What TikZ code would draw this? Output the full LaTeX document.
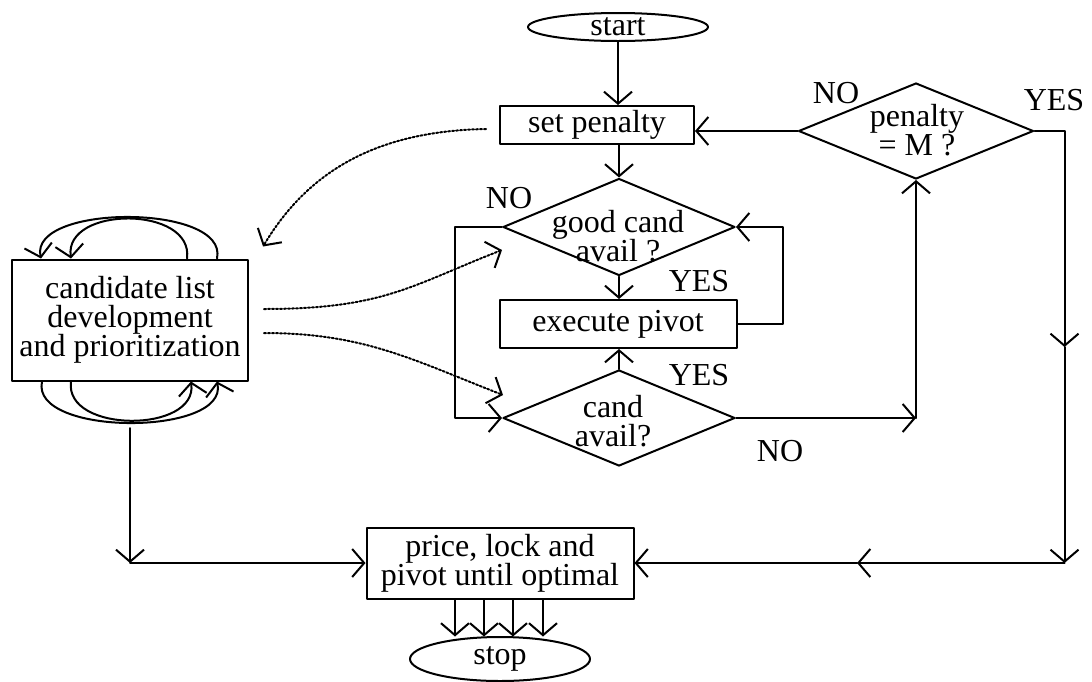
\documentclass[tikz,border=0pt]{standalone}
\usepackage{fontspec}
\setmainfont{Liberation Serif}
\usetikzlibrary{arrows.meta,shapes.geometric,calc}
\lineskiplimit=-100pt

\begin{document}
\begin{tikzpicture}[line cap=round,line join=round,>={Straight Barb[length=6pt,width=14pt]},x=0.5pt,y=-0.5pt,
	every node/.style={font=\fontsize{16}{14.5}\selectfont},
	box/.style={draw,line width=1pt,inner sep=0pt,align=center},
	dia/.style={draw,line width=1pt,shape=diamond,inner sep=0pt},
	oval/.style={draw,line width=1pt,shape=ellipse,inner sep=0pt},
	txt/.style={align=center,inner sep=0pt},
	ln/.style={line width=1pt},
	dots/.style={line width=1pt,densely dotted}]
	\useasboundingbox (0,0) rectangle (1092,681);
	\node[oval,minimum width=90pt,minimum height=14pt] (start) at (618,27) {};
	\node[txt] (start-t) at (start) {start};
	\node[box,minimum width=97pt,minimum height=19pt] (setp) at (597,125) {set penalty};
	\node[dia,minimum width=116pt,minimum height=48.5pt] (good) at (619,227) {};
	\node[txt] (good-t) at (618,236) {good cand\\avail ?};
	\node[box,minimum width=118.5pt,minimum height=24pt] (exec) at (618,324) {execute pivot};
	\node[dia,minimum width=116pt,minimum height=48pt] (avail) at (619,418) {};
	\node[txt] (avail-t) at (613,421) {cand\\avail?};
	\node[dia,minimum width=117.5pt,minimum height=48pt] (pen) at (916,131) {};
	\node[txt] (pen-t) at (917,130) {penalty\\= M ?};
	\node[box,minimum width=118pt,minimum height=60.5pt,font=\fontsize{16}{14.5}\selectfont] (cand) at (130,320) {candidate list\\development\\and prioritization};
	\node[box,minimum width=133.5pt,minimum height=35.5pt] (price) at (500,563) {price, lock and\\pivot until optimal};
	\node[oval,minimum width=90pt,minimum height=22pt] (stop) at (500,659) {};
	\node[txt] (stop-t) at (stop) {stop};
	\node (no-good) at (509,198) {NO};
	\node (yes-good) at (699,281) {YES};
	\node (yes-avail) at (699,375) {YES};
	\node (no-avail) at (780,451) {NO};
	\node (no-pen) at (836,93) {NO};
	\node (yes-pen) at (1054,100) {YES};
	\draw[ln,->] (start.south) -- (start.south |- setp.north);
	\draw[ln,->] (good.north |- setp.south) -- (good.north);
	\draw[ln,->] (good.south) -- (good.south |- exec.north);
	\draw[ln,->] (avail.north) -- (avail.north |- exec.south);
	\draw[ln,->] (exec.east) -- ++(45,0) |- (good.east);
	\draw[ln,->] (good.west) -- ++(-47,0) |- (avail.west);
	\draw[ln,->] (pen.west) -- (pen.west -| setp.east);
	\coordinate (ytop) at ($(pen.east)+(30,0)$);
	\coordinate (ymid) at (ytop |- 0,347);
	\coordinate (ybot) at (ytop |- price.east);
	\coordinate (hmid) at (857,563);
	\draw[ln,->] (pen.east) -- (ytop) -- (ymid);
	\draw[ln,->] (ymid) -- (ybot);
	\draw[ln,->] (ybot) -- (hmid);
	\draw[ln,->] (hmid) -- (price.east);
	\coordinate (ncorner) at (pen.south |- avail.east);
	\draw[ln,->] (avail.east) -- (ncorner);
	\draw[ln,->] (ncorner) -- (pen.south);
	\coordinate (ltop) at (130,428);
	\coordinate (lcorner) at (ltop |- price.west);
	\draw[ln,->] (ltop) -- (lcorner);
	\draw[ln,->] (lcorner) -- (price.west);
	\foreach \dx in {-45,-16,13,43}
		\draw[ln,->] ($(price.south)+(\dx,0)$) -- ($(price.south)+(\dx,37)$);
	\draw[ln,->] ($(cand.north west)+(206,0)$) .. controls +(12,-55) and +(-12,-55) .. ($(cand.north west)+(30,0)$);
	\draw[ln,->] ($(cand.north west)+(176,0)$) .. controls +(7,-53) and +(-7,-53) .. ($(cand.north west)+(60,0)$);
	\draw[ln,->] ($(cand.south west)+(31,0)$) .. controls +(-12,55) and +(12,55) .. ($(cand.south west)+(206,0)$);
	\draw[ln,->] ($(cand.south west)+(60,0)$) .. controls +(-7,52) and +(7,52) .. ($(cand.south west)+(180,0)$);
	\draw[dots,->] ($(setp.west)+(-13,4)$) .. controls +(-110,2) and +(45,-75) .. ($(cand.north east)+(14,-12)$);
	\draw[dots,->] ($(cand.east)+(15,-11)$) .. controls +(120,0) and +(-90,35) .. ($(good.west)+(0,23)$);
	\draw[dots,->] ($(cand.east)+(15,13)$) .. controls +(100,0) and +(-90,-35) .. ($(avail.west)+(1,-23)$);
\end{tikzpicture}
\end{document}
